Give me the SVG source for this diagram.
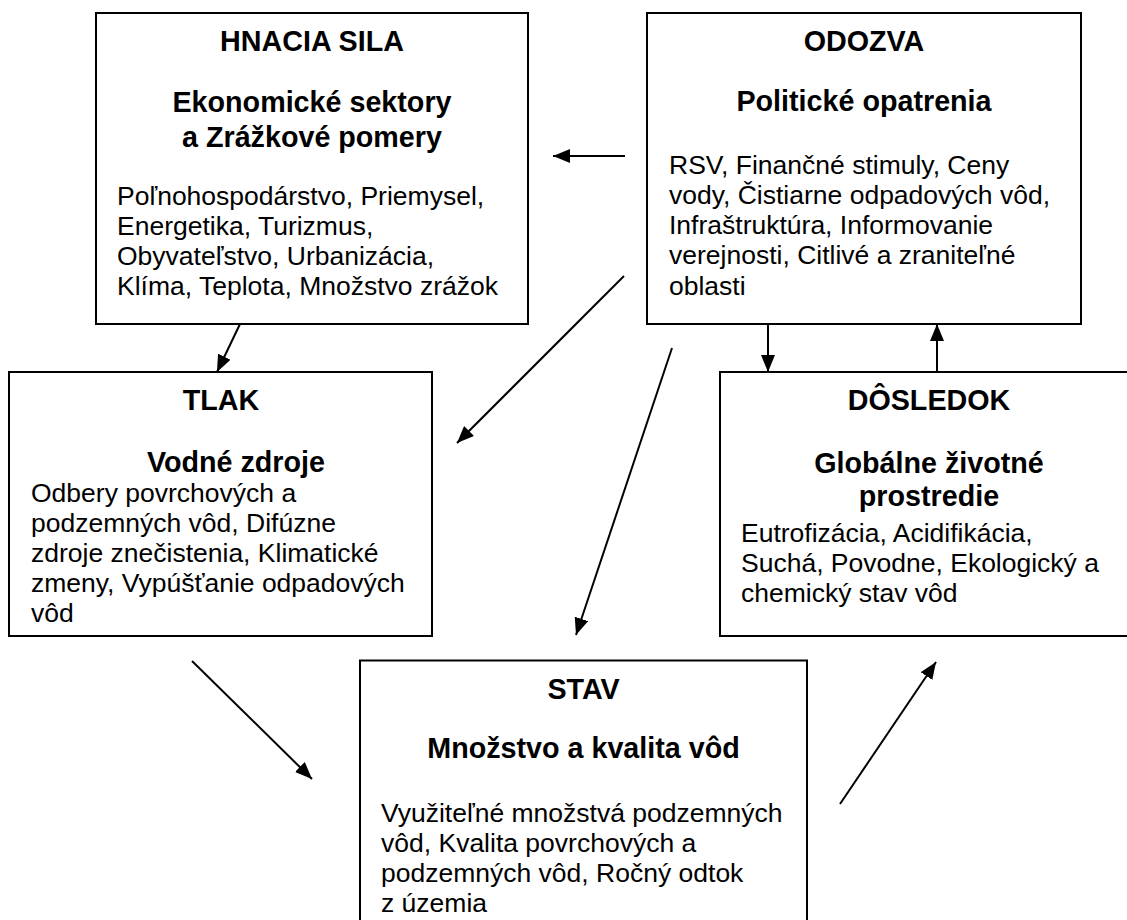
<svg xmlns="http://www.w3.org/2000/svg" width="1127" height="920" viewBox="0 0 1127 920">
<style>
.box{fill:#fff;stroke:#000;stroke-width:2}
.h{font-family:"Liberation Sans",Arial,sans-serif;font-weight:bold;font-size:28.7px;fill:#000;text-anchor:middle}
.b{font-family:"Liberation Sans",Arial,sans-serif;font-size:26.5px;fill:#000}
.c{stroke:#000;stroke-width:2;fill:none;marker-end:url(#ah)}
</style>
<defs>
<marker id="ah" markerUnits="userSpaceOnUse" markerWidth="17" markerHeight="14" refX="17" refY="7" orient="auto">
<path d="M0,0 L17,7 L0,14 z" fill="#000"/>
</marker>
</defs>
<rect width="1127" height="920" fill="#fff"/>
<g id="hnacia-sila">
<rect class="box" x="96" y="13" width="432" height="311"/>
<text class="h" x="312" y="51">HNACIA SILA</text>
<text class="h" x="312" y="112">Ekonomické sektory</text>
<text class="h" x="312" y="147">a Zrážkové pomery</text>
<text class="b" x="117" y="205">Poľnohospodárstvo, Priemysel,</text>
<text class="b" x="117" y="235">Energetika, Turizmus,</text>
<text class="b" x="117" y="265">Obyvateľstvo, Urbanizácia,</text>
<text class="b" x="117" y="295">Klíma, Teplota, Množstvo zrážok</text>
</g>
<g id="odozva">
<rect class="box" x="647" y="13" width="434" height="311"/>
<text class="h" x="864" y="51">ODOZVA</text>
<text class="h" x="864" y="111">Politické opatrenia</text>
<text class="b" x="669" y="174">RSV, Finančné stimuly, Ceny</text>
<text class="b" x="669" y="204">vody, Čistiarne odpadových vôd,</text>
<text class="b" x="669" y="234">Infraštruktúra, Informovanie</text>
<text class="b" x="669" y="264">verejnosti, Citlivé a zraniteľné</text>
<text class="b" x="669" y="295">oblasti</text>
</g>
<g id="tlak">
<rect class="box" x="9" y="372" width="423" height="264"/>
<text class="h" x="221" y="410">TLAK</text>
<text class="h" x="236" y="472">Vodné zdroje</text>
<text class="b" x="31" y="502">Odbery povrchových a</text>
<text class="b" x="31" y="532">podzemných vôd, Difúzne</text>
<text class="b" x="31" y="562">zdroje znečistenia, Klimatické</text>
<text class="b" x="31" y="592">zmeny, Vypúšťanie odpadových</text>
<text class="b" x="31" y="622">vôd</text>
</g>
<g id="dosledok">
<rect class="box" x="720" y="372" width="418" height="264"/>
<text class="h" x="929" y="410">DÔSLEDOK</text>
<text class="h" x="929" y="473">Globálne životné</text>
<text class="h" x="929" y="506">prostredie</text>
<text class="b" x="741" y="542">Eutrofizácia, Acidifikácia,</text>
<text class="b" x="741" y="572">Suchá, Povodne, Ekologický a</text>
<text class="b" x="741" y="602">chemický stav vôd</text>
</g>
<g id="stav">
<rect class="box" x="360" y="660.5" width="447" height="300"/>
<text class="h" x="583.5" y="699">STAV</text>
<text class="h" x="583.5" y="758">Množstvo a kvalita vôd</text>
<text class="b" x="381" y="822">Využiteľné množstvá podzemných</text>
<text class="b" x="381" y="852">vôd, Kvalita povrchových a</text>
<text class="b" x="381" y="882">podzemných vôd, Ročný odtok</text>
<text class="b" x="381" y="912">z územia</text>
</g>
<g id="connectors">
<line class="c" x1="240" y1="324" x2="217" y2="372"/>
<line class="c" x1="768" y1="324" x2="768" y2="372"/>
<line class="c" x1="937" y1="372" x2="937" y2="324"/>
<line class="c" x1="625" y1="156" x2="553" y2="156"/>
<line class="c" x1="624" y1="276" x2="457" y2="443"/>
<line class="c" x1="672" y1="348" x2="576" y2="635"/>
<line class="c" x1="192" y1="661" x2="312" y2="779"/>
<line class="c" x1="840" y1="804" x2="936" y2="662"/>
</g>
</svg>
